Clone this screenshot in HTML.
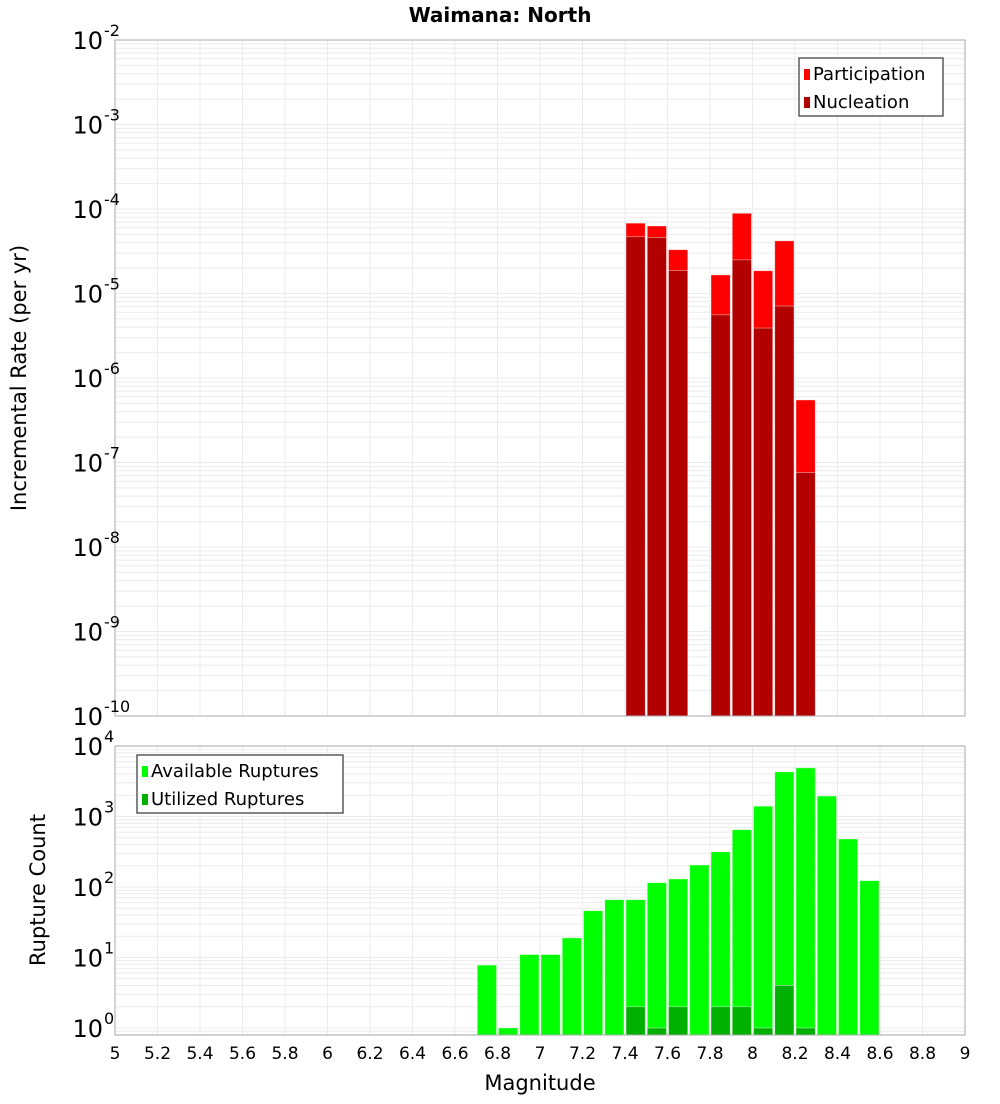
<!DOCTYPE html>
<html><head><meta charset="utf-8"><style>
body{margin:0;background:#fff;font-family:"DejaVu Sans","Liberation Sans",sans-serif;}
svg text{font-family:"DejaVu Sans","Liberation Sans",sans-serif;}
</style></head><body>
<svg id="chart" width="1000" height="1100" xmlns="http://www.w3.org/2000/svg">
<text x="500" y="22" text-anchor="middle" font-size="20" font-weight="bold">Waimana: North</text>
<g id="top"></g>
<g id="bot"></g>
<text transform="translate(26,378) rotate(-90)" text-anchor="middle" font-size="21">Incremental Rate (per yr)</text>
<text transform="translate(45,890) rotate(-90)" text-anchor="middle" font-size="21">Rupture Count</text>
<text x="540" y="1090" text-anchor="middle" font-size="21">Magnitude</text>
</svg>
<script>
const rateMags=[7.45,7.55,7.65,7.85,7.95,8.05,8.15,8.25];
const participation=[6.8e-5,6.3e-5,3.3e-5,1.66e-5,8.9e-5,1.86e-5,4.2e-5,5.5e-7];
const nucleation=[4.7e-5,4.6e-5,1.87e-5,5.6e-6,2.5e-5,3.9e-6,7.1e-6,7.6e-8];
const countMags=[6.75,6.85,6.95,7.05,7.15,7.25,7.35,7.45,7.55,7.65,7.75,7.85,7.95,8.05,8.15,8.25,8.35,8.45,8.55];
const available=[7.8,1,11,11,19,46,66,66,115,130,205,315,650,1400,4300,4900,1950,480,123];
const utilMags=[7.45,7.55,7.65,7.85,7.95,8.05,8.15,8.25];
const utilized=[2,1,2,2,2,1,4,1];
const xTicks=[5,5.2,5.4,5.6,5.8,6,6.2,6.4,6.6,6.8,7,7.2,7.4,7.6,7.8,8,8.2,8.4,8.6,8.8,9];
const rateExps=[-10,-9,-8,-7,-6,-5,-4,-3,-2];
const countExps=[0,1,2,3,4];

const NS="http://www.w3.org/2000/svg";
const L=115,R=965;
const sx=m=>L+(m-5)/4*(R-L);
function mk(p,t,a){const e=document.createElementNS(NS,t);for(const k in a)e.setAttribute(k,a[k]);p.appendChild(e);return e;}
function panel(g,top,bot,ymin,ymax,exps){
  const sy=v=>bot-(Math.log10(v)-ymin)/(ymax-ymin)*(bot-top);
  mk(g,'rect',{x:L,y:top,width:R-L,height:bot-top,fill:'#fff'});
  for(let e=Math.floor(ymin);e<ymax;e++)for(let k=1;k<10;k++){const v=k*Math.pow(10,e);const y=sy(v);if(y<top-0.1||y>bot+0.1)continue;
    mk(g,'line',{x1:L,x2:R,y1:y,y2:y,stroke:'#ebebeb','stroke-width':1});}
  xTicks.forEach(t=>{const x=sx(t);mk(g,'line',{x1:x,x2:x,y1:top,y2:bot,stroke:'#ebebeb','stroke-width':1});});
  return sy;
}
function bars(g,mags,vals,sy,bot,color,name){
  mags.forEach((m,i)=>{const x0=sx(m-0.05)+1,x1=sx(m+0.05)-1;const y=sy(vals[i]);
    const r=mk(g,'rect',{x:x0,y:y,width:x1-x0,height:bot-y,fill:color,stroke:'rgba(255,255,255,0.5)','stroke-width':0.8});
    
    });
}
function yLabels(g,exps,sy,fs){exps.forEach(e=>{const y=sy(Math.pow(10,e));
  const t=mk(g,'text',{x:103,y:y+9,'text-anchor':'end','font-size':24});t.textContent='10';
  const s=mk(g,'text',{x:104,y:y-4,'font-size':16});s.textContent=String(e);
  });}
function legend(g,x,y,w,items){mk(g,'rect',{x:x,y:y,width:w,height:58,fill:'#fff',stroke:'#333','stroke-width':1.2});
  items.forEach((it,i)=>{mk(g,'rect',{x:x+5,y:y+11+i*28,width:6,height:11,fill:it[1]});
  const t=mk(g,'text',{x:x+14,y:y+22+i*28,'font-size':18});t.textContent=it[0];
  });}

const gt=document.getElementById('top');
const syT=panel(gt,40,716,-10,-2);
bars(gt,rateMags,participation,syT,716,'#ff0000','participation');
bars(gt,rateMags,nucleation,syT,716,'#b20000','nucleation');
mk(gt,'rect',{x:L,y:40,width:R-L,height:676,fill:'none',stroke:'#aaa','stroke-width':1});
yLabels(gt,rateExps,syT);
legend(gt,799,58,144,[['Participation','#ff0000'],['Nucleation','#b20000']]);

const gb=document.getElementById('bot');
const syB=panel(gb,746,1035,-0.1,4);
bars(gb,countMags,available,syB,1035,'#00ff00','available');
bars(gb,utilMags,utilized,syB,1035,'#00b000','utilized');
mk(gb,'rect',{x:L,y:746,width:R-L,height:289,fill:'none',stroke:'#aaa','stroke-width':1});
yLabels(gb,countExps,syB);
legend(gb,137,755,206,[['Available Ruptures','#00ff00'],['Utilized Ruptures','#00b000']]);
xTicks.forEach(t=>{const e=mk(gb,'text',{x:sx(t),y:1059,'text-anchor':'middle','font-size':17});e.textContent=String(t);
  });
</script>
</body></html>
